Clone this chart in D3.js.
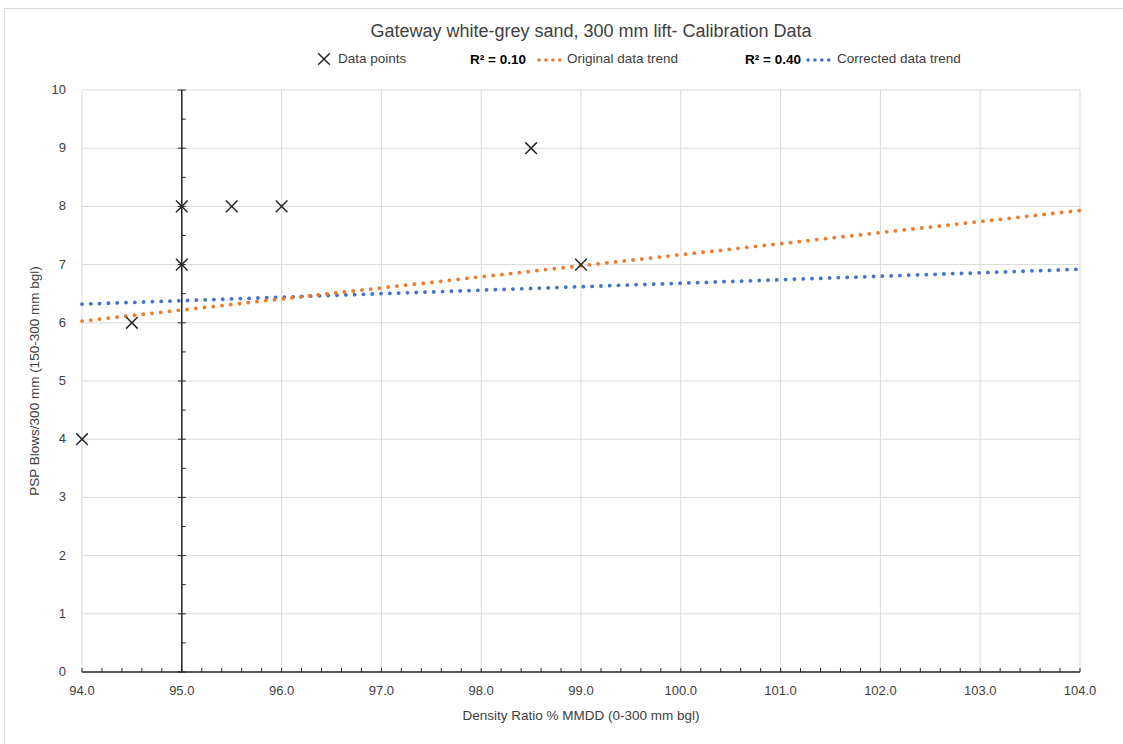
<!DOCTYPE html>
<html lang="en">
<head>
    <meta charset="UTF-8">
    <title>Gateway white-grey sand calibration</title>
    <style>
        body { margin: 0; background: #fff; }
        text { font-family: "Liberation Sans Narrow", "Liberation Sans", Arial, sans-serif; fill: #404040; }
    </style>
</head>
<body>
<svg height="744" width="1123"></svg>

<script src="https://d3js.org/d3.v7.min.js"></script>
<script>

    // data
    var densityRatio = [94.0, 94.5, 95.0, 95.0, 95.5, 96.0, 98.5, 99.0];
    var pspBlows = [4, 6, 8, 7, 8, 8, 9, 7];

    var originalTrendX = [94, 104];
    var originalTrendY = [6.03, 7.93];
    var correctedTrendX = [94, 104];
    var correctedTrendY = [6.32, 6.92];

    var xTicks = [94, 95, 96, 97, 98, 99, 100, 101, 102, 103, 104];
    var yTicks = [0, 1, 2, 3, 4, 5, 6, 7, 8, 9, 10];

    var svg = d3.select("svg");
    var margin = {top: 90, right: 43, bottom: 72, left: 82};
    var width = +svg.attr("width") - margin.left - margin.right;
    var height = +svg.attr("height") - margin.top - margin.bottom;

    // outer chart border
    svg.append("rect")
        .attr("x", 4.5).attr("y", 8.5)
        .attr("width", 1130).attr("height", 760)
        .attr("fill", "none").attr("stroke", "#d9d9d9");

    var g = svg.append("g")
        .attr("transform", "translate(" + margin.left + "," + margin.top + ")");

    var x = d3.scaleLinear().domain([94, 104]).range([0, width]);
    var y = d3.scaleLinear().domain([0, 10]).range([height, 0]);

    // gridlines
    g.selectAll(".vgrid").data(xTicks).enter().append("line")
        .attr("x1", function(d) { return x(d); }).attr("x2", function(d) { return x(d); })
        .attr("y1", 0).attr("y2", height)
        .attr("stroke", "#d9d9d9").attr("stroke-width", 1);
    g.selectAll(".hgrid").data(yTicks).enter().append("line")
        .attr("x1", 0).attr("x2", width)
        .attr("y1", function(d) { return y(d); }).attr("y2", function(d) { return y(d); })
        .attr("stroke", "#d9d9d9").attr("stroke-width", 1);

    // x axis at y = 0 with minor ticks pointing up
    var xMinor = d3.range(94, 104.001, 0.2);
    g.selectAll(".xminor").data(xMinor).enter().append("line")
        .attr("x1", function(d) { return x(d); }).attr("x2", function(d) { return x(d); })
        .attr("y1", y(0)).attr("y2", y(0) - 4)
        .attr("stroke", "#262626").attr("stroke-width", 1);
    g.append("line")
        .attr("x1", 0).attr("x2", width)
        .attr("y1", y(0)).attr("y2", y(0))
        .attr("stroke", "#262626").attr("stroke-width", 1.5);

    // y axis crossing at x = 95
    var yMinor = d3.range(0.5, 10, 1);
    g.selectAll(".yminor").data(yMinor).enter().append("line")
        .attr("x1", x(95)).attr("x2", x(95) + 4)
        .attr("y1", function(d) { return y(d); }).attr("y2", function(d) { return y(d); })
        .attr("stroke", "#262626").attr("stroke-width", 1);
    g.selectAll(".ymajor").data(yTicks).enter().append("line")
        .attr("x1", x(95) - 4).attr("x2", x(95) + 4)
        .attr("y1", function(d) { return y(d); }).attr("y2", function(d) { return y(d); })
        .attr("stroke", "#262626").attr("stroke-width", 1);
    g.append("line")
        .attr("x1", x(95)).attr("x2", x(95))
        .attr("y1", 0).attr("y2", height)
        .attr("stroke", "#262626").attr("stroke-width", 1.5);

    // tick labels
    g.selectAll(".ylab").data(yTicks).enter().append("text")
        .attr("x", -16).attr("y", function(d) { return y(d) + 4; })
        .attr("text-anchor", "end").style("font-size", "13px")
        .text(function(d) { return d; });
    g.selectAll(".xlab").data(xTicks).enter().append("text")
        .attr("x", function(d) { return x(d); }).attr("y", height + 23)
        .attr("text-anchor", "middle").style("font-size", "13px")
        .text(function(d) { return d.toFixed(1); });

    // axis titles
    g.append("text")
        .attr("x", width / 2).attr("y", height + 48)
        .attr("text-anchor", "middle").style("font-size", "13.5px")
        .text("Density Ratio % MMDD (0-300 mm bgl)");
    g.append("text")
        .attr("transform", "translate(-43," + (height / 2) + ") rotate(-90)")
        .attr("text-anchor", "middle").style("font-size", "13.5px")
        .text("PSP Blows/300 mm (150-300 mm bgl)");

    // trend lines
    var line = d3.line()
        .x(function(d) { return x(d[0]); })
        .y(function(d) { return y(d[1]); });

    g.append("path")
        .datum(d3.zip(correctedTrendX, correctedTrendY))
        .attr("d", line)
        .attr("fill", "none").attr("stroke", "#4472c4")
        .attr("stroke-width", 3.8).attr("stroke-linecap", "round")
        .attr("stroke-dasharray", "0.1 8.7");
    g.append("path")
        .datum(d3.zip(originalTrendX, originalTrendY))
        .attr("d", line)
        .attr("fill", "none").attr("stroke", "#ed7d31")
        .attr("stroke-width", 3.8).attr("stroke-linecap", "round")
        .attr("stroke-dasharray", "0.1 8.7");

    // data points as X markers
    var cross = d3.symbol().type(d3.symbolX).size(90);
    g.selectAll(".pt").data(d3.zip(densityRatio, pspBlows)).enter().append("path")
        .attr("d", cross)
        .attr("transform", function(d) { return "translate(" + x(d[0]) + "," + y(d[1]) + ")"; })
        .attr("fill", "none").attr("stroke", "#262626").attr("stroke-width", 1.5);

    // title
    svg.append("text")
        .attr("x", 591).attr("y", 37)
        .attr("text-anchor", "middle")
        .style("font-family", "'Liberation Sans', Arial, sans-serif")
        .style("font-size", "18px")
        .text("Gateway white-grey sand, 300 mm lift- Calibration Data");

    // legend
    var legend = svg.append("g").style("font-size", "13.5px");
    legend.append("path")
        .attr("d", cross)
        .attr("transform", "translate(324,59)")
        .attr("fill", "none").attr("stroke", "#262626").attr("stroke-width", 1.5);
    legend.append("text").attr("x", 338).attr("y", 63).text("Data points");

    legend.append("text").attr("x", 470).attr("y", 64)
        .style("font-weight", "bold").style("fill", "#000").text("R² = 0.10");
    legend.append("line")
        .attr("x1", 539).attr("x2", 566).attr("y1", 60).attr("y2", 60)
        .attr("stroke", "#ed7d31").attr("stroke-width", 3.5)
        .attr("stroke-linecap", "round").attr("stroke-dasharray", "0.1 6.8");
    legend.append("text").attr("x", 567).attr("y", 63).text("Original data trend");

    legend.append("text").attr("x", 745).attr("y", 64)
        .style("font-weight", "bold").style("fill", "#000").text("R² = 0.40");
    legend.append("line")
        .attr("x1", 808).attr("x2", 835).attr("y1", 60).attr("y2", 60)
        .attr("stroke", "#4472c4").attr("stroke-width", 3.5)
        .attr("stroke-linecap", "round").attr("stroke-dasharray", "0.1 6.8");
    legend.append("text").attr("x", 837).attr("y", 63).text("Corrected data trend");

</script>
</body>
</html>
